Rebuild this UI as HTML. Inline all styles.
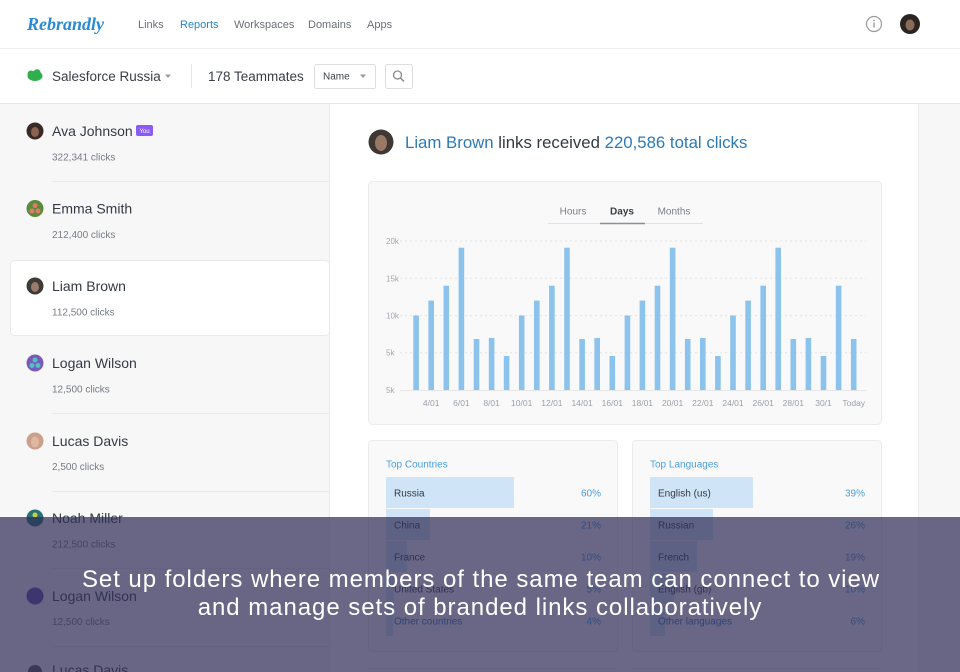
<!DOCTYPE html>
<html><head><meta charset="utf-8"><style>
html,body{margin:0;padding:0;background:#fff;}
body{width:960px;height:672px;overflow:hidden;position:relative;font-family:"Liberation Sans",sans-serif;}
svg{position:absolute;left:0;top:0;display:block;}
</style></head><body>
<svg width="960" height="672" viewBox="0 0 960 672" xmlns="http://www.w3.org/2000/svg" font-family="Liberation Sans, sans-serif">
<defs><clipPath id="pg"><rect x="0" y="0" width="960" height="672"/></clipPath></defs>
<g clip-path="url(#pg)">
<!-- backgrounds -->
<rect x="0" y="0" width="960" height="672" fill="#ffffff"/>
<rect x="0" y="104" width="329" height="568" fill="#f7f7f7"/>
<line x1="329.5" y1="104" x2="329.5" y2="672" stroke="#ececec"/>
<rect x="918" y="104" width="42" height="568" fill="#f7f7f7"/>
<line x1="918.5" y1="104" x2="918.5" y2="672" stroke="#efefef"/>
<line x1="0" y1="48.5" x2="960" y2="48.5" stroke="#efefef"/>
<line x1="0" y1="103.5" x2="960" y2="103.5" stroke="#e8e8e8"/>

<!-- top nav -->
<text x="27" y="30" font-family="Liberation Serif, serif" font-style="italic" font-weight="bold" font-size="18" fill="#2a8ad4">Rebrandly</text>
<text x="138" y="28" font-size="11" fill="#6b6f76">Links</text>
<text x="180" y="28" font-size="11" fill="#2a86c9">Reports</text>
<text x="234" y="28" font-size="11" fill="#6b6f76">Workspaces</text>
<text x="308" y="28" font-size="11" fill="#6b6f76">Domains</text>
<text x="367" y="28" font-size="11" fill="#6b6f76">Apps</text>
<circle cx="874" cy="24" r="7.5" fill="none" stroke="#9a9a9a" stroke-width="1.2"/>
<rect x="873.3" y="22.5" width="1.4" height="5" fill="#9a9a9a"/>
<circle cx="874" cy="20.5" r="0.9" fill="#9a9a9a"/>
<circle cx="910" cy="24" r="10" fill="#2b2522"/>
<ellipse cx="910" cy="25" rx="4.5" ry="5.5" fill="#8a6a58"/>

<!-- second bar -->
<ellipse cx="35" cy="76" rx="7.5" ry="5" fill="#2fb04d"/>
<circle cx="31" cy="74" r="3.5" fill="#2fb04d"/>
<circle cx="37" cy="73" r="3.8" fill="#2fb04d"/>
<text x="52" y="81" font-size="13.5" fill="#3a3f47">Salesforce Russia</text>
<path d="M165 74.5 L171 74.5 L168 78 Z" fill="#999"/>
<line x1="191.5" y1="64" x2="191.5" y2="88" stroke="#e6e6e6"/>
<text x="208" y="81" font-size="13.5" fill="#3a3f47">178 Teammates</text>
<rect x="314.5" y="64.5" width="61" height="24" rx="2" fill="#fff" stroke="#dedede"/>
<text x="323" y="79.5" font-size="10" fill="#3a3f47">Name</text>
<path d="M360 74.5 L366 74.5 L363 78 Z" fill="#999"/>
<rect x="385.5" y="64.5" width="27" height="24" rx="2" fill="#fff" stroke="#dedede"/>
<circle cx="397.5" cy="75" r="4" fill="none" stroke="#8a8a8a" stroke-width="1.3"/>
<line x1="400.5" y1="78" x2="404" y2="81.5" stroke="#8a8a8a" stroke-width="1.5"/>

<!-- sidebar -->
<rect x="10.5" y="260.5" width="319" height="75" rx="4" fill="#ffffff" stroke="#eaeaea"/>
<g stroke="#e9e9e9">
<line x1="52" y1="181.5" x2="329" y2="181.5"/>
<line x1="52" y1="413.5" x2="329" y2="413.5"/>
<line x1="52" y1="491.5" x2="329" y2="491.5"/>
<line x1="52" y1="568.5" x2="329" y2="568.5"/>
<line x1="52" y1="646.5" x2="329" y2="646.5"/>
</g>
<circle cx="35" cy="131" r="8.5" fill="#3a2a25"/><ellipse cx="35" cy="132" rx="4" ry="5" fill="#8a6252"/>
<text x="52" y="136" font-size="14" fill="#333a44">Ava Johnson</text>
<rect x="136" y="125" width="17" height="11" rx="2" fill="#8a5cf0"/>
<text x="144.5" y="133" font-size="6" fill="#fff" text-anchor="middle">You</text>
<text x="52" y="160.5" font-size="10" fill="#777c84">322,341 clicks</text>

<circle cx="35" cy="208.5" r="8.5" fill="#5a8a3a"/><circle cx="35" cy="205.5" r="2.5" fill="#e07a6a"/><circle cx="32" cy="211" r="2.5" fill="#e07a6a"/><circle cx="38" cy="211" r="2.5" fill="#e07a6a"/>
<text x="52" y="213.5" font-size="14" fill="#333a44">Emma Smith</text>
<text x="52" y="238" font-size="10" fill="#777c84">212,400 clicks</text>

<circle cx="35" cy="286" r="8.5" fill="#3e3a36"/><ellipse cx="35" cy="287" rx="4" ry="5" fill="#9a7a68"/>
<text x="52" y="291" font-size="14" fill="#333a44">Liam Brown</text>
<text x="52" y="315.5" font-size="10" fill="#777c84">112,500 clicks</text>

<circle cx="35" cy="363" r="8.5" fill="#7a5ab8"/><circle cx="35" cy="360" r="2.5" fill="#4fc1c0"/><circle cx="32" cy="365.5" r="2.5" fill="#4fc1c0"/><circle cx="38" cy="365.5" r="2.5" fill="#4fc1c0"/>
<text x="52" y="368" font-size="14" fill="#333a44">Logan Wilson</text>
<text x="52" y="392.5" font-size="10" fill="#777c84">12,500 clicks</text>

<circle cx="35" cy="441" r="8.5" fill="#c9a08a"/><ellipse cx="35" cy="442" rx="4" ry="5.5" fill="#e0b8a0"/>
<text x="52" y="446" font-size="14" fill="#333a44">Lucas Davis</text>
<text x="52" y="470" font-size="10" fill="#777c84">2,500 clicks</text>

<circle cx="35" cy="518" r="8.5" fill="#2a7078"/><circle cx="35" cy="515" r="2.5" fill="#c8d040"/>
<text x="52" y="523" font-size="14" fill="#333a44">Noah Miller</text>
<text x="52" y="547.5" font-size="10" fill="#777c84">212,500 clicks</text>

<circle cx="35" cy="596" r="8.5" fill="#5a4aa8"/>
<text x="52" y="601" font-size="14" fill="#333a44">Logan Wilson</text>
<text x="52" y="625" font-size="10" fill="#777c84">12,500 clicks</text>

<circle cx="35" cy="672" r="7" fill="#555"/>
<text x="52" y="675" font-size="14" fill="#333a44">Lucas Davis</text>

<!-- main header -->
<circle cx="381" cy="142" r="12.5" fill="#3e3834"/>
<ellipse cx="381" cy="143" rx="6" ry="8" fill="#9a7866"/>
<text x="405" y="148" font-size="16.8" fill="#333a44"><tspan fill="#2b7bb9">Liam Brown</tspan> links received <tspan fill="#2b7bb9">220,586 total clicks</tspan></text>

<!-- chart card -->
<rect x="368.5" y="181.5" width="513" height="243" rx="4" fill="#f9f9f9" stroke="#ececec"/>
<text x="573" y="214.5" font-size="10" fill="#7a7f87" text-anchor="middle">Hours</text>
<text x="622" y="214.5" font-size="10" font-weight="bold" fill="#3a3f47" text-anchor="middle">Days</text>
<text x="674" y="214.5" font-size="10" fill="#7a7f87" text-anchor="middle">Months</text>
<line x1="548" y1="223.5" x2="703" y2="223.5" stroke="#e2e2e2"/>
<line x1="600" y1="223.5" x2="645" y2="223.5" stroke="#8a9099" stroke-width="1.6"/>

<g stroke="#e4e4e4" stroke-dasharray="2,3">
<line x1="400" y1="241" x2="866" y2="241"/>
<line x1="400" y1="278.3" x2="866" y2="278.3"/>
<line x1="400" y1="315.6" x2="866" y2="315.6"/>
<line x1="400" y1="352.7" x2="866" y2="352.7"/>
</g>
<line x1="400" y1="390.5" x2="866" y2="390.5" stroke="#e6e6e6"/>
<g font-size="8" fill="#a3a7ad">
<text x="386" y="244">20k</text>
<text x="386" y="281.3">15k</text>
<text x="386" y="318.6">10k</text>
<text x="386" y="355.7">5k</text>
<text x="386" y="393">5k</text>
</g>
<g fill="#8cc3ec">
<rect x="413.3" y="315.5" width="5.6" height="74.5"/>
<rect x="428.4" y="300.6" width="5.6" height="89.4"/>
<rect x="443.5" y="285.7" width="5.6" height="104.3"/>
<rect x="458.6" y="247.7" width="5.6" height="142.3"/>
<rect x="473.7" y="339" width="5.6" height="51"/>
<rect x="488.8" y="338" width="5.6" height="52"/>
<rect x="503.8" y="356" width="5.6" height="34"/>
<rect x="518.9" y="315.5" width="5.6" height="74.5"/>
<rect x="534.0" y="300.6" width="5.6" height="89.4"/>
<rect x="549.1" y="285.7" width="5.6" height="104.3"/>
<rect x="564.2" y="247.7" width="5.6" height="142.3"/>
<rect x="579.3" y="339" width="5.6" height="51"/>
<rect x="594.4" y="338" width="5.6" height="52"/>
<rect x="609.5" y="356" width="5.6" height="34"/>
<rect x="624.6" y="315.5" width="5.6" height="74.5"/>
<rect x="639.6" y="300.6" width="5.6" height="89.4"/>
<rect x="654.7" y="285.7" width="5.6" height="104.3"/>
<rect x="669.8" y="247.7" width="5.6" height="142.3"/>
<rect x="684.9" y="339" width="5.6" height="51"/>
<rect x="700.0" y="338" width="5.6" height="52"/>
<rect x="715.1" y="356" width="5.6" height="34"/>
<rect x="730.2" y="315.5" width="5.6" height="74.5"/>
<rect x="745.3" y="300.6" width="5.6" height="89.4"/>
<rect x="760.4" y="285.7" width="5.6" height="104.3"/>
<rect x="775.4" y="247.7" width="5.6" height="142.3"/>
<rect x="790.5" y="339" width="5.6" height="51"/>
<rect x="805.6" y="338" width="5.6" height="52"/>
<rect x="820.7" y="356" width="5.6" height="34"/>
<rect x="835.8" y="285.7" width="5.6" height="104.3"/>
<rect x="850.9" y="339" width="5.6" height="51"/>
</g>
<g font-size="8.5" fill="#9aa0a8" text-anchor="middle">
<text x="431.2" y="406">4/01</text>
<text x="461.4" y="406">6/01</text>
<text x="491.6" y="406">8/01</text>
<text x="521.7" y="406">10/01</text>
<text x="551.9" y="406">12/01</text>
<text x="582.1" y="406">14/01</text>
<text x="612.3" y="406">16/01</text>
<text x="642.4" y="406">18/01</text>
<text x="672.6" y="406">20/01</text>
<text x="702.8" y="406">22/01</text>
<text x="733.0" y="406">24/01</text>
<text x="763.2" y="406">26/01</text>
<text x="793.3" y="406">28/01</text>
<text x="823.5" y="406">30/1</text>
<text x="853.7" y="406">Today</text>
</g>

<!-- bottom cards -->
<rect x="368.5" y="440.5" width="249" height="211" rx="4" fill="#f9f9f9" stroke="#ececec"/>
<rect x="632.5" y="440.5" width="249" height="211" rx="4" fill="#f9f9f9" stroke="#ececec"/>
<rect x="368" y="668" width="250" height="4" fill="#f9f9f9"/>
<rect x="632" y="668" width="250" height="4" fill="#f9f9f9"/>
<line x1="370" y1="668.5" x2="616" y2="668.5" stroke="#ececec"/>
<line x1="634" y1="668.5" x2="880" y2="668.5" stroke="#ececec"/>

<text x="386" y="467.5" font-size="10" fill="#4a9de0">Top Countries</text>
<g fill="#cfe4f6">
<rect x="386" y="477" width="128" height="31"/>
<rect x="386" y="509" width="44" height="31"/>
<rect x="386" y="541" width="21" height="31"/>
<rect x="386" y="573" width="8" height="31"/>
<rect x="386" y="605" width="7" height="31"/>
</g>
<g font-size="10" fill="#333a44">
<text x="394" y="496.5">Russia</text>
<text x="394" y="528.5">China</text>
<text x="394" y="560.5">France</text>
<text x="394" y="592.5">United States</text>
<text x="394" y="624.5" fill="#2b7bb9">Other countries</text>
</g>
<g font-size="10" fill="#4a9de0" text-anchor="end">
<text x="601" y="496.5">60%</text>
<text x="601" y="528.5">21%</text>
<text x="601" y="560.5">10%</text>
<text x="601" y="592.5">5%</text>
<text x="601" y="624.5">4%</text>
</g>

<text x="650" y="467.5" font-size="10" fill="#4a9de0">Top Languages</text>
<g fill="#cfe4f6">
<rect x="650" y="477" width="103" height="31"/>
<rect x="650" y="509" width="63" height="31"/>
<rect x="650" y="541" width="47" height="31"/>
<rect x="650" y="573" width="24" height="31"/>
<rect x="650" y="605" width="15" height="31"/>
</g>
<g font-size="10" fill="#333a44">
<text x="658" y="496.5">English (us)</text>
<text x="658" y="528.5">Russian</text>
<text x="658" y="560.5">French</text>
<text x="658" y="592.5">English (gb)</text>
<text x="658" y="624.5" fill="#2b7bb9">Other languages</text>
</g>
<g font-size="10" fill="#4a9de0" text-anchor="end">
<text x="865" y="496.5">39%</text>
<text x="865" y="528.5">26%</text>
<text x="865" y="560.5">19%</text>
<text x="865" y="592.5">10%</text>
<text x="865" y="624.5">6%</text>
</g>

<!-- overlay -->
<rect x="0" y="517" width="960" height="155" fill="rgba(48,46,88,0.72)"/>
<g font-size="24" fill="#ffffff" text-anchor="middle" letter-spacing="0.95">
<text x="481" y="587">Set up folders where members of the same team can connect to view</text>
<text x="480" y="615">and manage sets of branded links collaboratively</text>
</g>
</g>
</svg>
</body></html>
